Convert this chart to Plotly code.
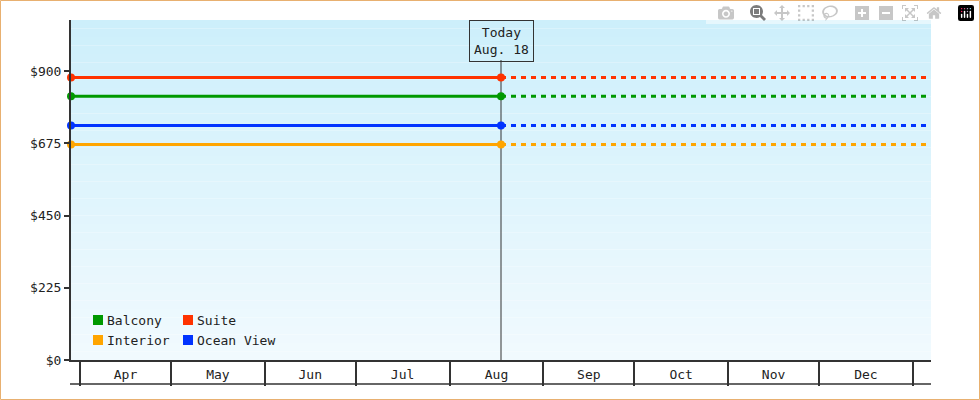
import plotly.graph_objects as go

series = ["Suite", "Balcony", "Ocean View", "Interior"]
prices = [881, 822, 731, 672]
colors = ["#ff3300", "#009900", "#0033ff", "#ffa500"]
start_date = "2024-03-29"
today_date = "2024-08-18"
end_date = "2025-01-07"
y_ticks = [0, 225, 450, 675, 900]
y_labels = ["$0", "$225", "$450", "$675", "$900"]
legend_order = [("Balcony", "#009900"), ("Suite", "#ff3300"), ("Interior", "#ffa500"), ("Ocean View", "#0033ff")]

FONT = "DejaVu Sans Mono"
fig = go.Figure()
for name, p, c in zip(series, prices, colors):
    fig.add_trace(go.Scatter(x=[start_date, today_date], y=[p, p], mode="lines+markers",
                             line=dict(color=c, width=3), marker=dict(color=c, size=8),
                             cliponaxis=False, showlegend=False, hoverinfo="skip"))
    fig.add_trace(go.Scatter(x=[today_date, end_date], y=[p, p], mode="lines",
                             line=dict(color=c, width=3, dash="5px,5px"), showlegend=False, hoverinfo="skip"))

shapes = []
N = 40
top = (205, 239, 251)
bot = (241, 250, 254)
for i in range(N):
    t = i / (N - 1)
    col = tuple(round(top[k] + (bot[k] - top[k]) * t) for k in range(3))
    shapes.append(dict(type="rect", xref="paper", yref="paper", x0=0, x1=1,
                       y1=1 - i / N, y0=1 - (i + 1) / N, fillcolor="rgb(%d,%d,%d)" % col,
                       line=dict(width=0), layer="below"))
shapes.append(dict(type="line", xref="x", yref="paper", x0=today_date, x1=today_date,
                   y0=0, y1=1 - 40 / 340, line=dict(color="#333", width=1), layer="below"))
shapes.append(dict(type="line", xref="paper", yref="paper", x0=-1 / 860, x1=1,
                   y0=-24 / 340, y1=-24 / 340, line=dict(color="#333", width=1.5)))
shapes.append(dict(type="rect", xref="paper", yref="paper", x0=-70.5 / 860, x1=(860 + 48.5) / 860,
                   y0=-39.5 / 340, y1=(340 + 19.5) / 340, line=dict(color="#e8b070", width=1)))

annotations = [dict(x=today_date, xref="x", y=1, yref="paper", yanchor="top",
                    text="Today<br>Aug. 18", showarrow=False, bordercolor="#333", borderwidth=1,
                    borderpad=4, font=dict(family=FONT, size=13, color="#222"))]
for i, (name, c) in enumerate(legend_order):
    col, row = i % 2, i // 2
    x0 = 22 + col * 90
    yc = 40 - row * 20
    shapes.append(dict(type="rect", xref="paper", yref="paper", x0=x0 / 860, x1=(x0 + 10) / 860,
                       y0=(yc - 5) / 340, y1=(yc + 5) / 340, fillcolor=c, line=dict(width=0)))
    annotations.append(dict(x=(x0 + 12) / 860, y=yc / 340, xref="paper", yref="paper",
                            xanchor="left", yanchor="middle", text=name, showarrow=False,
                            font=dict(family=FONT, size=13, color="#222")))

fig.update_layout(
    width=980, height=400, margin=dict(l=71, r=49, t=20, b=40),
    paper_bgcolor="white", plot_bgcolor="rgba(0,0,0,0)",
    shapes=shapes, annotations=annotations, showlegend=False,
    font=dict(family=FONT, size=13, color="#222"),
    xaxis=dict(type="date", range=[start_date, end_date], tick0="2024-04-01", dtick="M1",
               tickformat="%b", ticklabelmode="period", ticks="outside", ticklen=24,
               tickcolor="#333", tickwidth=1.5, showgrid=False, showline=True,
               linecolor="#333", linewidth=1.5, zeroline=False, ticklabelstandoff=-22),
    yaxis=dict(range=[0, 1060], tickvals=y_ticks, ticktext=y_labels, ticks="outside",
               ticklen=5, tickwidth=2, tickcolor="#333", showgrid=False, showline=True,
               linecolor="#333", linewidth=2, zeroline=False),
)
fig.write_html("out.html", post_script="document.body.style.margin='0';document.body.style.overflow='hidden';")
